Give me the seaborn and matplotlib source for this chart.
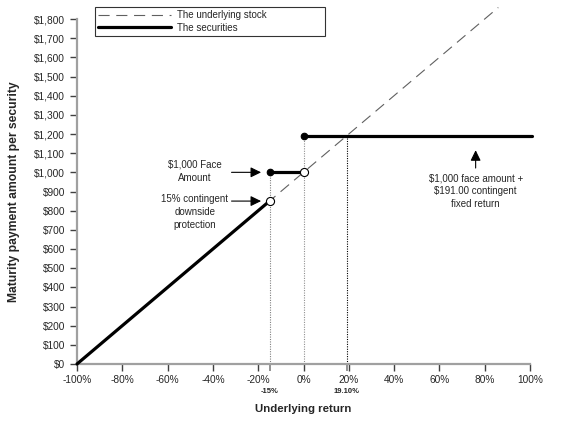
import matplotlib
matplotlib.use("Agg")
import matplotlib.pyplot as plt
import seaborn as sns
import pandas as pd
from matplotlib.ticker import FuncFormatter

sns.set_theme(style="white")
plt.rcParams['font.family'] = ['Liberation Sans', 'DejaVu Sans']

# Data (underlying return in %, payment in $)
stock_x = [-100, 86]
stock_y = [0, 1860]

seg1_x = [-100, -15]
seg1_y = [0, 850]
seg2_x = [-15, 0]
seg2_y = [1000, 1000]
seg3_x = [0, 101]
seg3_y = [1191, 1191]

filled_x = [-15, 0]
filled_y = [1000, 1191]
open_x = [-15, 0]
open_y = [850, 1000]

x_ticks = [-100, -80, -60, -40, -20, 0, 20, 40, 60, 80, 100]
y_ticks = list(range(0, 1900, 100))
special_x = [-15, 19.10]
special_labels = ["-15%", "19.10%"]

fig = plt.figure(figsize=(5.61, 4.23), dpi=100)
ax = fig.add_axes([77/561, 59/423, 453/561, 345/423])

stock_df = pd.DataFrame({"x": stock_x, "y": stock_y})
sns.lineplot(data=stock_df, x="x", y="y", ax=ax, color="#606060", lw=0.8,
             dashes=False, linestyle=(0, (10, 6)), label="The underlying stock",
             clip_on=False, zorder=2)

for i, (sx, sy) in enumerate([(seg1_x, seg1_y), (seg2_x, seg2_y), (seg3_x, seg3_y)]):
    df = pd.DataFrame({"x": sx, "y": sy})
    sns.lineplot(data=df, x="x", y="y", ax=ax, color="black", lw=2.3,
                 label="The securities" if i == 0 else None, clip_on=False, zorder=3)

# vertical reference lines
ax.vlines(-15, 0, 1000, colors="#808080", linestyles=(0, (1, 1.2)), lw=0.8, zorder=1)
ax.vlines(0, 0, 1191, colors="#909090", linestyles=(0, (1, 1.2)), lw=0.8, zorder=1)
ax.vlines(19.10, 0, 1191, colors="black", linestyles=(0, (1, 1.2)), lw=0.8, zorder=1)

sns.scatterplot(x=filled_x, y=filled_y, ax=ax, color="black", s=22, zorder=5,
                edgecolor="black", linewidth=0.8, clip_on=False, legend=False)
sns.scatterplot(x=open_x, y=open_y, ax=ax, color="white", s=34, zorder=5,
                edgecolor="black", linewidth=0.8, clip_on=False, legend=False)

ax.set_xlim(-100, 100)
ax.set_ylim(0, 1800)
ax.set_xticks(x_ticks)
ax.set_yticks(y_ticks)
ax.xaxis.set_major_formatter(FuncFormatter(lambda v, p: f"{int(v)}%"))
ax.yaxis.set_major_formatter(FuncFormatter(lambda v, p: f"${int(v):,}"))
ax.set_xticks(special_x, minor=True)
ax.set_xticklabels(special_labels, minor=True)
ax.tick_params(axis='x', which='minor', length=5, width=1.2, color="#808080",
               labelsize=5.5, pad=12, direction='out', bottom=True)
for t in ax.xaxis.get_minorticklabels():
    t.set_fontweight('bold')
ax.tick_params(axis='both', which='major', labelsize=7.3, length=5, width=1,
               color="#404040", direction='out', bottom=True, left=True)
ax.tick_params(axis='x', which='major', pad=3)

for s in ["top", "right"]:
    ax.spines[s].set_visible(False)
for s in ["left", "bottom"]:
    ax.spines[s].set_color("#a0a0a0")
    ax.spines[s].set_linewidth(1.6)

ax.set_xlabel("Underlying return", fontsize=8.2, fontweight="bold", labelpad=7)
ax.set_ylabel("Maturity payment amount per security", fontsize=8.7, fontweight="bold", labelpad=10)

leg = ax.legend(loc="upper left", bbox_to_anchor=(18/453, 0, 230/453, 1 + 12/345),
                mode="expand", fontsize=7,
                frameon=True, fancybox=False, edgecolor="black", handlelength=7.5,
                borderpad=0.3, labelspacing=0.3, borderaxespad=0, handletextpad=0.6)
leg.get_frame().set_linewidth(0.8)

# annotations
arrow_style = "-|>,head_length=0.45,head_width=0.22"
ax.annotate("", xy=(-17.5, 1000), xytext=(-33, 1000),
            arrowprops=dict(arrowstyle=arrow_style, color="black", lw=0.8, mutation_scale=14))
ax.text(-48, 1004, "$1,000 Face\nAmount", ha="center", va="center", fontsize=7,
        linespacing=1.4)
ax.annotate("", xy=(-17.5, 850), xytext=(-33, 850),
            arrowprops=dict(arrowstyle=arrow_style, color="black", lw=0.8, mutation_scale=14))
ax.text(-48, 885, "15% contingent\ndownside\nprotection", ha="center", va="top",
        fontsize=7, linespacing=1.35)
ax.annotate("", xy=(76, 1130), xytext=(76, 1008),
            arrowprops=dict(arrowstyle=arrow_style, color="black", lw=0.8, mutation_scale=14))
ax.text(76, 995, "$1,000 face amount +\n$191.00 contingent\nfixed return", ha="center",
        va="top", fontsize=7, linespacing=1.35)

fig.savefig("out.png", dpi=100)
